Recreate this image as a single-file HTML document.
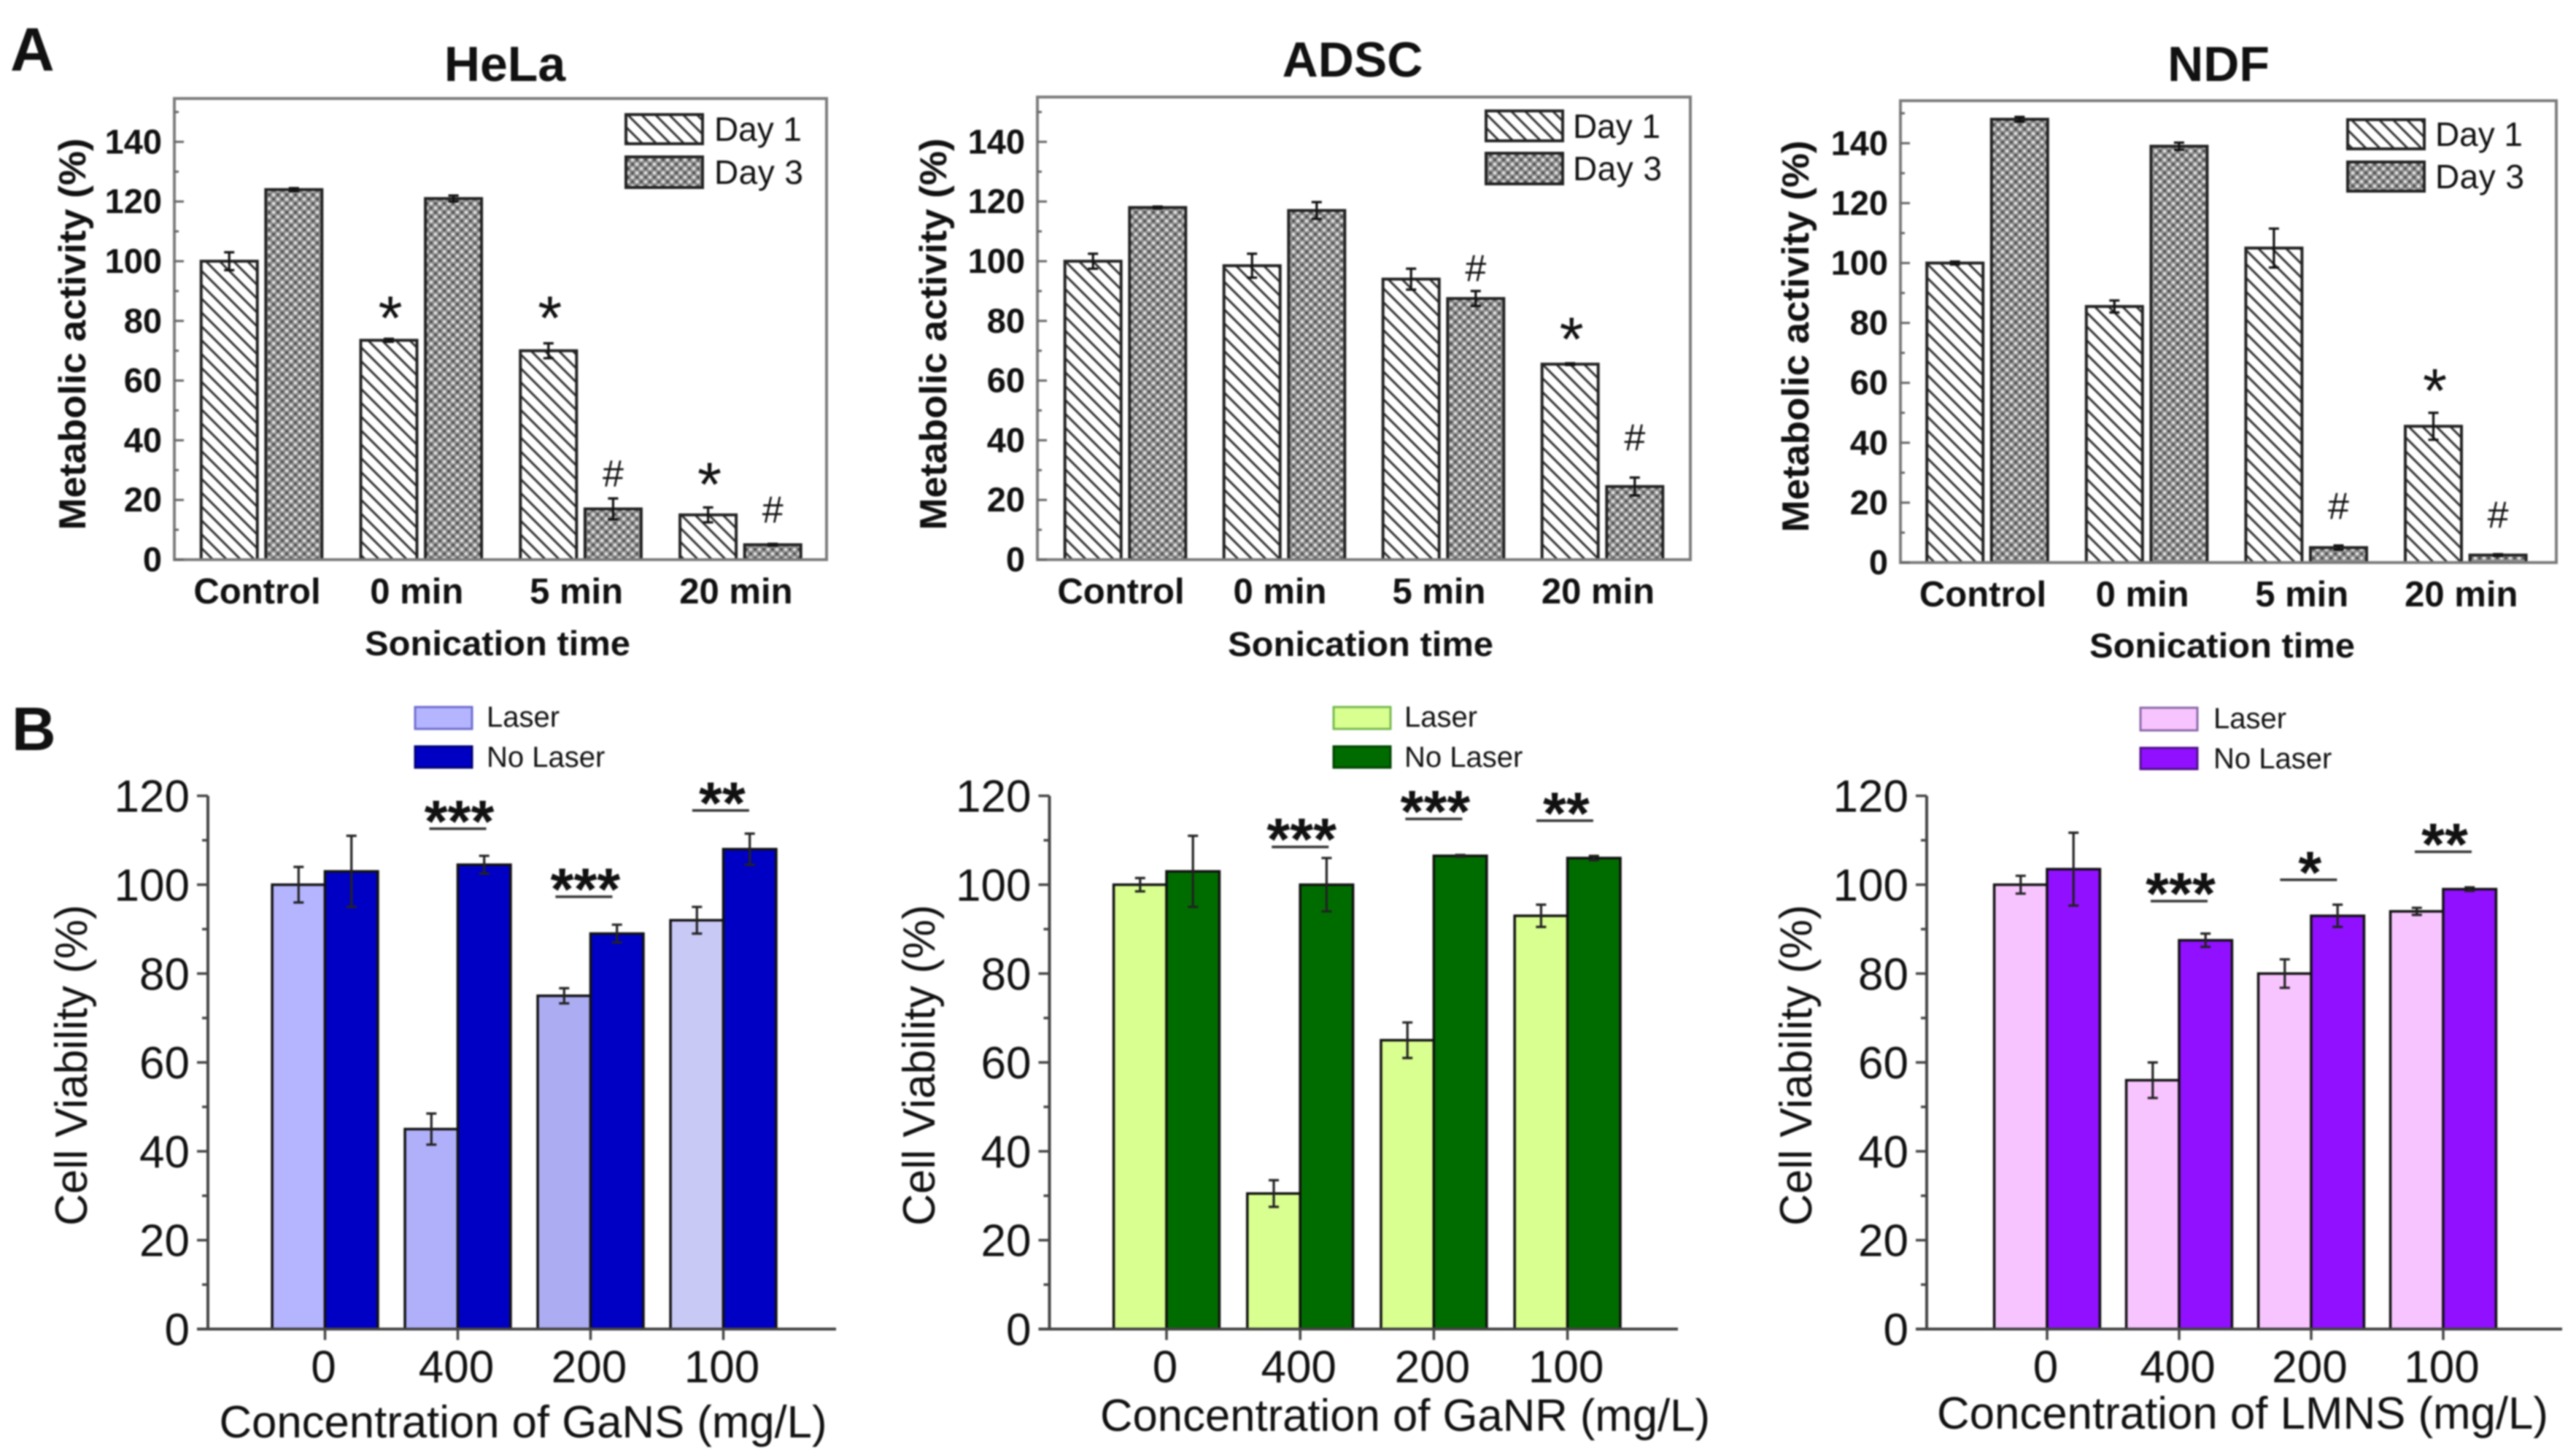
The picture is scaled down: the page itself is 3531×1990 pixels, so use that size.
<!DOCTYPE html>
<html lang="en">
<head>
<meta charset="utf-8">
<title>Metabolic activity and cell viability bar charts</title>
<style>
html,body{margin:0;padding:0;background:#fff;}
svg{display:block;filter:blur(1px);}
text{font-family:"Liberation Sans",sans-serif;fill:#111;}
.b{font-weight:bold;}
</style>
</head>
<body>
<svg id="fig" xmlns="http://www.w3.org/2000/svg" width="3531" height="1990" viewBox="0 0 3531 1990">
<defs>
<pattern id="hatch" patternUnits="userSpaceOnUse" width="19" height="19">
<rect width="19" height="19" fill="#fff"/>
<path d="M-4.75,-4.75L23.75,23.75M-4.75,14.25L4.75,23.75M14.25,-4.75L23.75,4.75" stroke="#333" stroke-width="3"/>
</pattern>
<pattern id="dots" patternUnits="userSpaceOnUse" width="12" height="12">
<rect width="12" height="12" fill="#8c8c8c"/>
<circle cx="3" cy="3" r="2.3" fill="#e2e2e2"/>
<circle cx="9" cy="9" r="2.3" fill="#e2e2e2"/>
<circle cx="9" cy="3" r="1.7" fill="#444"/>
<circle cx="3" cy="9" r="1.7" fill="#444"/>
</pattern>
</defs>
<rect width="3531" height="1990" fill="#fff"/>

<text class="b" x="14" y="97" font-size="84">A</text>
<text class="b" x="16" y="1028" font-size="84">B</text>

<text class="b" x="692" y="111" font-size="68" text-anchor="middle">HeLa</text>
<text class="b" x="1854" y="105" font-size="68" text-anchor="middle">ADSC</text>
<text class="b" x="3041" y="111" font-size="68" text-anchor="middle">NDF</text>

<text class="b" transform="translate(117,458) rotate(-90)" font-size="52" text-anchor="middle" textLength="537" lengthAdjust="spacingAndGlyphs">Metabolic activity (%)</text>
<text class="b" transform="translate(1297,458) rotate(-90)" font-size="52" text-anchor="middle" textLength="537" lengthAdjust="spacingAndGlyphs">Metabolic activity (%)</text>
<text class="b" transform="translate(2479,461) rotate(-90)" font-size="52" text-anchor="middle" textLength="537" lengthAdjust="spacingAndGlyphs">Metabolic activity (%)</text>

<text class="b" x="682" y="898" font-size="47" text-anchor="middle" textLength="364" lengthAdjust="spacingAndGlyphs">Sonication time</text>
<text class="b" x="1865" y="899" font-size="47" text-anchor="middle" textLength="364" lengthAdjust="spacingAndGlyphs">Sonication time</text>
<text class="b" x="3046" y="901" font-size="47" text-anchor="middle" textLength="364" lengthAdjust="spacingAndGlyphs">Sonication time</text>

<rect x="858" y="157" width="105" height="40" fill="url(#hatch)" stroke="#222" stroke-width="4"/>
<rect x="858" y="215" width="105" height="42" fill="url(#dots)" stroke="#222" stroke-width="4"/>
<text x="979" y="193" font-size="46" textLength="120" lengthAdjust="spacing">Day 1</text>
<text x="979" y="252" font-size="46" textLength="122" lengthAdjust="spacing">Day 3</text>

<rect x="2037" y="152" width="105" height="41" fill="url(#hatch)" stroke="#222" stroke-width="4"/>
<rect x="2037" y="210" width="105" height="42" fill="url(#dots)" stroke="#222" stroke-width="4"/>
<text x="2156" y="189" font-size="46" textLength="120" lengthAdjust="spacing">Day 1</text>
<text x="2156" y="247" font-size="46" textLength="122" lengthAdjust="spacing">Day 3</text>

<rect x="3218" y="164" width="105" height="40" fill="url(#hatch)" stroke="#222" stroke-width="4"/>
<rect x="3218" y="222" width="105" height="40" fill="url(#dots)" stroke="#222" stroke-width="4"/>
<text x="3338" y="200" font-size="46" textLength="120" lengthAdjust="spacing">Day 1</text>
<text x="3338" y="258" font-size="46" textLength="122" lengthAdjust="spacing">Day 3</text>

<text transform="translate(119,1460) rotate(-90)" font-size="62" text-anchor="middle" textLength="440" lengthAdjust="spacingAndGlyphs">Cell Viability (%)</text>
<text transform="translate(1281,1460) rotate(-90)" font-size="62" text-anchor="middle" textLength="440" lengthAdjust="spacingAndGlyphs">Cell Viability (%)</text>
<text transform="translate(2483,1460) rotate(-90)" font-size="62" text-anchor="middle" textLength="440" lengthAdjust="spacingAndGlyphs">Cell Viability (%)</text>

<text x="717" y="1970" font-size="62" text-anchor="middle" textLength="833" lengthAdjust="spacingAndGlyphs">Concentration of GaNS (mg/L)</text>
<text x="1926" y="1961" font-size="62" text-anchor="middle" textLength="836" lengthAdjust="spacingAndGlyphs">Concentration of GaNR (mg/L)</text>
<text x="3074" y="1958" font-size="62" text-anchor="middle" textLength="838" lengthAdjust="spacingAndGlyphs">Concentration of LMNS (mg/L)</text>

<rect x="569" y="969" width="78" height="30" fill="#b4b4ff" stroke="#6f6fd0" stroke-width="3"/>
<rect x="569" y="1023" width="78" height="29" fill="#0000c4" stroke="#00007a" stroke-width="3"/>
<text x="667" y="996" font-size="40">Laser</text>
<text x="667" y="1051" font-size="40">No Laser</text>

<rect x="1828" y="969" width="78" height="30" fill="#d8ff90" stroke="#78b850" stroke-width="3"/>
<rect x="1828" y="1023" width="78" height="29" fill="#006c00" stroke="#004400" stroke-width="3"/>
<text x="1925" y="996" font-size="40">Laser</text>
<text x="1925" y="1051" font-size="40">No Laser</text>

<rect x="2934" y="970" width="78" height="31" fill="#f8c4ff" stroke="#8a6aa8" stroke-width="3"/>
<rect x="2934" y="1025" width="78" height="29" fill="#9010ff" stroke="#50108a" stroke-width="3"/>
<text x="3034" y="998" font-size="40">Laser</text>
<text x="3034" y="1053" font-size="40">No Laser</text>
</svg>

<script>
const sonicationCategories = ['Control', '0 min', '5 min', '20 min'];
const concentrationCategories = ['0', '400', '200', '100'];
const metabolicTicks = [0, 20, 40, 60, 80, 100, 120, 140];
const metabolicMinorTicks = [10, 30, 50, 70, 90, 110, 130, 150];
const viabilityTicks = [0, 20, 40, 60, 80, 100, 120];
const viabilityMinorTicks = [10, 30, 50, 70, 90, 110];

const helaDay1 = [100, 73.5, 70, 15];
const helaDay1Err = [3, 0.5, 2.5, 2.5];
const helaDay3 = [124, 121, 17, 5];
const helaDay3Err = [0.5, 1, 3.5, 0.3];
const adscDay1 = [100, 98.5, 94, 65.5];
const adscDay1Err = [2.5, 4, 3.5, 0.3];
const adscDay3 = [118, 117, 87.5, 24.5];
const adscDay3Err = [0.3, 2.8, 2.5, 3];
const ndfDay1 = [100, 85.5, 105, 45.5];
const ndfDay1Err = [0.5, 2, 6.5, 4.5];
const ndfDay3 = [148, 139, 5, 2.5];
const ndfDay3Err = [0.8, 1.2, 0.7, 0.3];

const helaMarkSymbols = ['*', '*', '#', '*', '#'];
const helaMarkCats = [1, 2, 2, 3, 3];
const helaMarkSeries = [0, 0, 1, 0, 1];
const helaMarkValues = [83.7, 83.7, 28.8, 28, 16.8];
const adscMarkSymbols = ['#', '*', '#'];
const adscMarkCats = [2, 3, 3];
const adscMarkSeries = [1, 0, 1];
const adscMarkValues = [97.7, 76.7, 41];
const ndfMarkSymbols = ['#', '*', '#'];
const ndfMarkCats = [2, 3, 3];
const ndfMarkSeries = [1, 0, 1];
const ndfMarkValues = [18.9, 60.2, 16];

const gansLaser = [100, 45, 75, 92];
const gansLaserErr = [4, 3.5, 1.7, 3];
const gansNoLaser = [103, 104.5, 89, 108];
const gansNoLaserErr = [8, 2, 2, 3.5];
const ganrLaser = [100, 30.5, 65, 93];
const ganrLaserErr = [1.5, 3, 4, 2.5];
const ganrNoLaser = [103, 100, 106.5, 106];
const ganrNoLaserErr = [8, 6, 0.2, 0.5];
const lmnsLaser = [100, 56, 80, 94];
const lmnsLaserErr = [2, 4, 3.2, 0.8];
const lmnsNoLaser = [103.5, 87.5, 93, 99];
const lmnsNoLaserErr = [8.2, 1.5, 2.5, 0.4];

const gansSigStars = ['***', '***', '**'];
const gansSigCats = [1, 1.95, 2.98];
const gansSigValues = [112.6, 97.3, 116.7];
const ganrSigStars = ['***', '***', '**'];
const ganrSigCats = [1, 2, 2.98];
const ganrSigValues = [108.5, 114.8, 114.4];
const lmnsSigStars = ['***', '*', '**'];
const lmnsSigCats = [1, 1.98, 3];
const lmnsSigValues = [96.3, 101.1, 107.4];

const NS = 'http://www.w3.org/2000/svg';
const fig = document.getElementById('fig');

function mk(tag, parent, props, txt) {
  const el = document.createElementNS(NS, tag);
  for (const k in props) el.setAttribute(k, props[k]);
  if (txt !== undefined) el.textContent = txt;
  parent.appendChild(el);
  return el;
}

const sonicationPanels = [
  {key:'hela', left:239, right:1133, top:135, y0:767, k:4.09, c0:358.5, step:218.8, d1:helaDay1, e1:helaDay1Err, d3:helaDay3, e3:helaDay3Err, ms:helaMarkSymbols, mc:helaMarkCats, mr:helaMarkSeries, mv:helaMarkValues},
  {key:'adsc', left:1422, right:2317, top:133, y0:767, k:4.09, c0:1542.5, step:218, d1:adscDay1, e1:adscDay1Err, d3:adscDay3, e3:adscDay3Err, ms:adscMarkSymbols, mc:adscMarkCats, mr:adscMarkSeries, mv:adscMarkValues},
  {key:'ndf', left:2605, right:3504, top:138, y0:771, k:4.105, c0:2724, step:218.6, d1:ndfDay1, e1:ndfDay1Err, d3:ndfDay3, e3:ndfDay3Err, ms:ndfMarkSymbols, mc:ndfMarkCats, mr:ndfMarkSeries, mv:ndfMarkValues}
];

const viabilityPanels = [
  {key:'gans', axis:285, right:1146, y0:1821.5, k:6.09, c0:445.5, step:182, laser:gansLaser, le:gansLaserErr, none:gansNoLaser, ne:gansNoLaserErr, laserFill:['#b4b4ff','#b0b0fa','#acacf2','#c9c9f6'], noneFill:'#0000c4', ss:gansSigStars, sc:gansSigCats, sv:gansSigValues},
  {key:'ganr', axis:1438.5, right:2300, y0:1821.5, k:6.09, c0:1599, step:183.2, laser:ganrLaser, le:ganrLaserErr, none:ganrNoLaser, ne:ganrNoLaserErr, laserFill:['#d8ff90','#d8ff90','#d8ff90','#d8ff90'], noneFill:'#006c00', ss:ganrSigStars, sc:ganrSigCats, sv:ganrSigValues},
  {key:'lmns', axis:2641, right:3512, y0:1821.5, k:6.09, c0:2806, step:181, laser:lmnsLaser, le:lmnsLaserErr, none:lmnsNoLaser, ne:lmnsNoLaserErr, laserFill:['#f8c4ff','#f8c4ff','#f8c4ff','#f8c4ff'], noneFill:'#9010ff', ss:lmnsSigStars, sc:lmnsSigCats, sv:lmnsSigValues}
];

function errorBar(g, xc, yHi, yLo, cap, color, name) {
  const p = mk('path', g, {d:'M'+(xc-cap)+','+yHi+'H'+(xc+cap)+'M'+(xc-cap)+','+yLo+'H'+(xc+cap)+'M'+xc+','+yHi+'V'+yLo, stroke:color, 'stroke-width':3.2, fill:'none'});
  
  
}

sonicationPanels.forEach(function (P) {
  const xScale = function (i) { return P.c0 + P.step * i; };
  const yScale = function (v) { return P.y0 - P.k * v; };
  const barW = 77, off = 44.3;
  const g = mk('g', fig, {});
  
  

  sonicationCategories.forEach(function (cat, i) {
    [[P.d1, P.e1, 'hatch', -off, 'day-1'], [P.d3, P.e3, 'dots', off, 'day-3']].forEach(function (S) {
      const cx = xScale(i) + S[3];
      const r = mk('rect', g, {x:cx - barW / 2, y:yScale(S[0][i]), width:barW, height:P.y0 - yScale(S[0][i]), fill:'url(#' + S[2] + ')', stroke:'#222', 'stroke-width':4});
      
      
      errorBar(g, cx, yScale(S[0][i] + S[1][i]), yScale(S[0][i] - S[1][i]), 7, '#111', 'error-bar-' + P.key + '-' + S[4] + '-' + i);
    });
    const lab = mk('text', g, {class:'b', x:xScale(i) - 6, y:P.y0 + 60, 'font-size':49, 'text-anchor':'middle'}, cat);
    
    
  });

  const frame = mk('rect', g, {x:P.left, y:P.top, width:P.right - P.left, height:P.y0 - P.top, fill:'none', stroke:'#7c7c7c', 'stroke-width':4});
  
  

  metabolicTicks.forEach(function (t) {
    const y = yScale(t);
    const tick = mk('line', g, {x1:P.left, x2:P.left + 13, y1:y, y2:y, stroke:'#666', 'stroke-width':3});
    
    
    const lab = mk('text', g, {class:'b', x:P.left - 17, y:y + 16, 'font-size':47, 'text-anchor':'end'}, String(t));
    
    
  });
  metabolicMinorTicks.forEach(function (t) {
    const y = yScale(t);
    const tick = mk('line', g, {x1:P.left, x2:P.left + 6, y1:y, y2:y, stroke:'#666', 'stroke-width':3});
    
    
  });

  P.ms.forEach(function (sym, j) {
    const cx = xScale(P.mc[j]) + (P.mr[j] ? off : -off);
    const cy = yScale(P.mv[j]);
    const isStar = sym === '*';
    const t = mk('text', g, {x:cx + (isStar ? 2 : 0), y:cy + (isStar ? 41 : 18), 'font-size':isStar ? 85 : 52, 'text-anchor':'middle'}, sym);
    
    
  });
});

viabilityPanels.forEach(function (P) {
  const xScale = function (i) { return P.c0 + P.step * i; };
  const yScale = function (v) { return P.y0 - P.k * v; };
  const barW = 72.5, off = 36.2;
  const g = mk('g', fig, {});
  
  

  concentrationCategories.forEach(function (cat, i) {
    [[P.laser, P.le, P.laserFill[i], -off, 'laser'], [P.none, P.ne, P.noneFill, off, 'no-laser']].forEach(function (S) {
      const cx = xScale(i) + S[3];
      const r = mk('rect', g, {x:cx - barW / 2, y:yScale(S[0][i]), width:barW, height:P.y0 - yScale(S[0][i]), fill:S[2], stroke:'#111', 'stroke-width':3.5});
      
      
      errorBar(g, cx, yScale(S[0][i] + S[1][i]), yScale(S[0][i] - S[1][i]), 7, '#222', 'error-bar-' + P.key + '-' + S[4] + '-' + i);
    });
    const tk = mk('line', g, {x1:xScale(i), x2:xScale(i), y1:P.y0, y2:P.y0 + 15, stroke:'#444', 'stroke-width':3.5});
    
    
    const lab = mk('text', g, {x:xScale(i) - 2, y:P.y0 + 73, 'font-size':62, 'text-anchor':'middle'}, cat);
    
    
  });

  const yAxis = mk('line', g, {x1:P.axis, x2:P.axis, y1:yScale(120), y2:P.y0, stroke:'#444', 'stroke-width':4});
  
  
  const xAxis = mk('line', g, {x1:P.axis - 15, x2:P.right, y1:P.y0, y2:P.y0, stroke:'#444', 'stroke-width':4});
  
  

  viabilityTicks.forEach(function (t) {
    const y = yScale(t);
    const tick = mk('line', g, {x1:P.axis - 15, x2:P.axis, y1:y, y2:y, stroke:'#444', 'stroke-width':3.5});
    
    
    const lab = mk('text', g, {x:P.axis - 25, y:y + 22, 'font-size':62, 'text-anchor':'end'}, String(t));
    
    
  });
  viabilityMinorTicks.forEach(function (t) {
    const y = yScale(t);
    const tick = mk('line', g, {x1:P.axis - 8, x2:P.axis, y1:y, y2:y, stroke:'#444', 'stroke-width':3.5});
    
    
  });

  P.ss.forEach(function (stars, j) {
    const xc = xScale(P.sc[j]);
    const ly = yScale(P.sv[j]);
    const br = mk('line', g, {x1:xc - 39, x2:xc + 39, y1:ly, y2:ly, stroke:'#333', 'stroke-width':3.5});
    
    
    const t = mk('text', g, {class:'b', x:xc + 2, y:ly + 18, 'font-size':82, 'text-anchor':'middle'}, stars);
    
    
  });
});
</script>
</body>
</html>
